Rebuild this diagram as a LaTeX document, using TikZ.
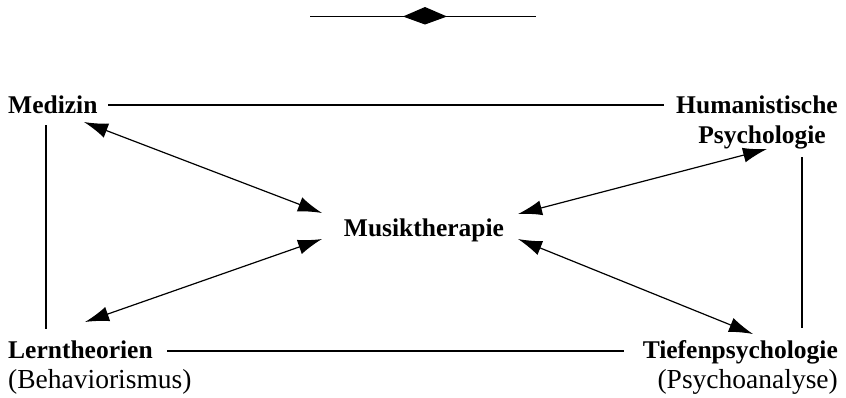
\documentclass[tikz,border=0pt]{standalone}
\usepackage{fontspec}
\setmainfont{Liberation Serif}
\usetikzlibrary{arrows.meta}
\newcommand\bfsz{\fontsize{25.5}{30}\selectfont\bfseries}
\newcommand\rmsz{\fontsize{27.5}{30}\selectfont}
\begin{document}
\begin{tikzpicture}[x=1pt,y=-1pt,
  lbl/.style={inner sep=0pt,font=\bfsz},
  sub/.style={inner sep=0pt,font=\rmsz},
  conn/.style={line width=1.2pt},
  dbl/.style={line width=1.2pt,{Latex[length=24pt,width=15pt]}-{Latex[length=24pt,width=15pt]}}]
\useasboundingbox (0,0) rectangle (846,397);
% ornament
\coordinate (ornL) at (310,16.5);
\coordinate (ornR) at (536,16.5);
\draw[conn] (ornL) -- (ornR);
\fill (403,16.5) -- (425,7) -- (447,16.5) -- (425,24.5) -- cycle;
% labels
\node[lbl,anchor=base west] (med) at (8,113) {Medizin};
\node[lbl,anchor=base] (hum) at (757,113) {Humanistische};
\node[lbl,anchor=base] (psy) at (762,143) {Psychologie};
\node[lbl,anchor=base west] (lern) at (8,358) {Lerntheorien};
\node[sub,anchor=base west] (beh) at (8,388) {(Behaviorismus)};
\node[lbl,anchor=base east] (tief) at (838,358) {Tiefenpsychologie};
\node[sub,anchor=base east] (psa) at (838,388) {(Psychoanalyse)};
\node[lbl,anchor=base] (mus) at (424,236) {Musiktherapie};
% plain lines
\coordinate (topA) at (108,105);
\coordinate (topB) at (664,105);
\coordinate (botA) at (167,351);
\coordinate (botB) at (624,351);
\coordinate (lftA) at (46,125);
\coordinate (lftB) at (46,329);
\coordinate (rgtA) at (802,157);
\coordinate (rgtB) at (802,328);
\draw[conn] (topA) -- (topB);
\draw[conn] (botA) -- (botB);
\draw[conn] (lftA) -- (lftB);
\draw[conn] (rgtA) -- (rgtB);
% arrows
\coordinate (aMed) at (84,122);
\coordinate (mMed) at (322,213);
\coordinate (aHum) at (767,149);
\coordinate (mHum) at (518,214);
\coordinate (aLern) at (85,322);
\coordinate (mLern) at (322,239);
\coordinate (aTief) at (753,334);
\coordinate (mTief) at (518,239);
\draw[dbl] (aMed) -- (mMed);
\draw[dbl] (aHum) -- (mHum);
\draw[dbl] (aLern) -- (mLern);
\draw[dbl] (aTief) -- (mTief);
\end{tikzpicture}
\end{document}
